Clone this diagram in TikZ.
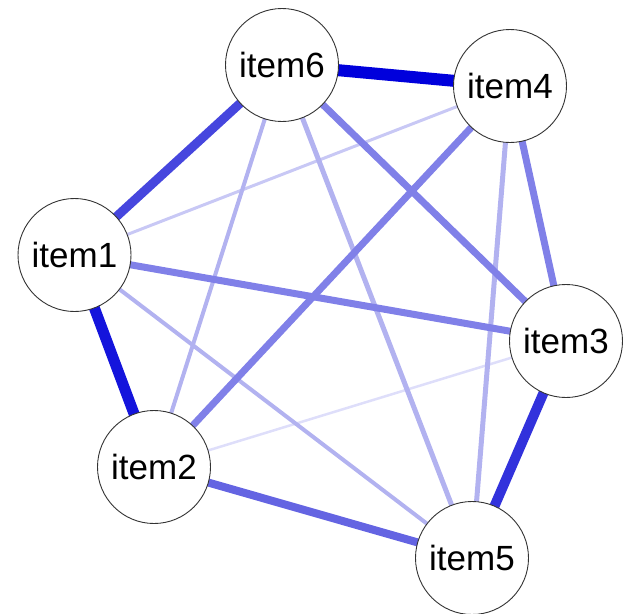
\documentclass[tikz,border=0pt]{standalone}
\usepackage{fontspec}
\setmainfont{Liberation Sans}
\usetikzlibrary{backgrounds}

\definecolor{wA}{RGB}{0,0,220}
\definecolor{wB}{RGB}{20,20,220}
\definecolor{wC}{RGB}{50,50,220}
\definecolor{wD}{RGB}{70,70,222}
\definecolor{wE}{RGB}{100,100,226}
\definecolor{wF}{RGB}{128,128,232}
\definecolor{wG}{RGB}{178,178,240}
\definecolor{wH}{RGB}{200,200,245}
\definecolor{wI}{RGB}{222,222,250}

\tikzset{
  item/.style={circle, draw=black!80, line width=0.9pt, fill=white, minimum size=113pt, inner sep=0pt, font=\fontsize{35}{40}\selectfont},
}

\begin{document}
\begin{tikzpicture}[x=1pt,y=-1pt]

\useasboundingbox (0,0) rectangle (629,613);

\node[item] (i6) at (282,65) {item6};
\node[item] (i4) at (510,86) {item4};
\node[item] (i1) at (74.5,255) {item1};
\node[item] (i3) at (566,341) {item3};
\node[item] (i2) at (154,467) {item2};
\node[item] (i5) at (472,558) {item5};

\begin{scope}[on background layer]
\draw[wI, line width=2.5pt] (i2.center) -- (i3.center);
\draw[wH, line width=3pt] (i1.center) -- (i4.center);
\draw[wG, line width=4pt] (i1.center) -- (i5.center);
\draw[wG, line width=4pt] (i6.center) -- (i2.center);
\draw[wG, line width=5pt] (i6.center) -- (i5.center);
\draw[wG, line width=5pt] (i4.center) -- (i5.center);
\draw[wF, line width=7pt] (i1.center) -- (i3.center);
\draw[wF, line width=7pt] (i4.center) -- (i2.center);
\draw[wF, line width=7pt] (i6.center) -- (i3.center);
\draw[wF, line width=7pt] (i4.center) -- (i3.center);
\draw[wE, line width=8pt] (i2.center) -- (i5.center);
\draw[wD, line width=9pt] (i1.center) -- (i6.center);
\draw[wC, line width=10pt] (i3.center) -- (i5.center);
\draw[wB, line width=11pt] (i1.center) -- (i2.center);
\draw[wA, line width=12pt] (i6.center) -- (i4.center);
\end{scope}

\end{tikzpicture}
\end{document}
